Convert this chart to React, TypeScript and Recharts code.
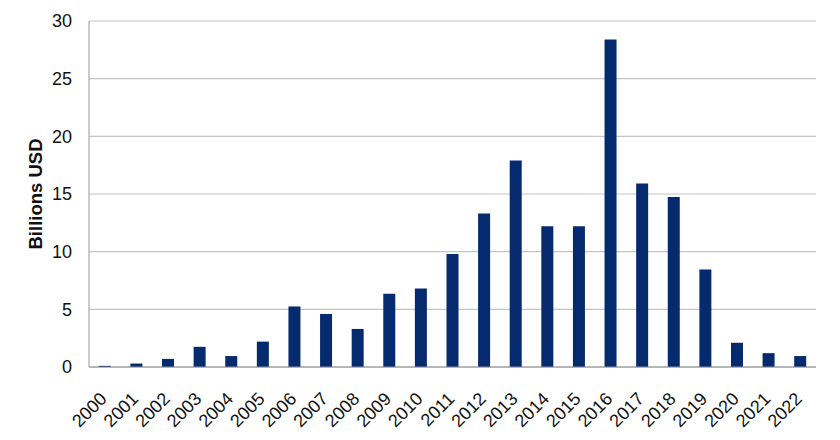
import React from 'react'
import { BarChart, Bar, XAxis, YAxis, CartesianGrid } from 'recharts'

const years = [
  '2000', '2001', '2002', '2003', '2004', '2005', '2006', '2007', '2008', '2009', '2010', '2011',
  '2012', '2013', '2014', '2015', '2016', '2017', '2018', '2019', '2020', '2021', '2022'
]
const investment = [
  0.1, 0.3, 0.7, 1.75, 0.95, 2.2, 5.25, 4.6, 3.3, 6.35, 6.8, 9.8,
  13.3, 17.9, 12.2, 12.2, 28.4, 15.9, 14.75, 8.45, 2.1, 1.2, 0.95
]
const yTicks = [0, 5, 10, 15, 20, 25, 30]

const data = years.map((year, i) => ({ year, value: investment[i] }))

const FONT = 'Liberation Sans, Arial, sans-serif'

// rotated year label, baseline ends just right of the category centre
const YearTick = ({ x, y, payload }: any) => (
  <g transform={`translate(${x + 3},${y + 25})`}>
    <text
      x={0}
      y={0}
      textAnchor="end"
      transform="rotate(-45)"
      fill="#111"
      fontSize={18}
      fontFamily={FONT}
    >
      {payload.value}
    </text>
  </g>
)

export default function App() {
  return (
    <div style={{ position: 'absolute', left: 0, top: 0, background: '#fff' }}>
      <BarChart
        width={840}
        height={440}
        data={data}
        margin={{ top: 21, right: 24, left: 0, bottom: 0 }}
        barCategoryGap="31%"
      >
        <CartesianGrid vertical={false} stroke="#c4c4c4" strokeWidth={1.2} />
        <XAxis
          dataKey="year"
          height={73}
          interval={0}
          tickLine={false}
          axisLine={{ stroke: '#8c8c8c', strokeWidth: 1.2 }}
          tick={<YearTick />}
        />
        <YAxis
          width={89}
          domain={[0, 30]}
          ticks={yTicks}
          tickLine={false}
          tickSize={0}
          tickMargin={17}
          axisLine={{ stroke: '#a8a8a8', strokeWidth: 1.2 }}
          tick={{ fill: '#111', fontSize: 18, fontFamily: FONT }}
          label={{
            value: 'Billions USD',
            angle: -90,
            position: 'center',
            dx: -9,
            style: { fill: '#111', fontSize: 18.5, fontWeight: 'bold', fontFamily: FONT, textAnchor: 'middle' }
          }}
        />
        <Bar dataKey="value" fill="#062a6e" isAnimationActive={false} />
      </BarChart>
    </div>
  )
}
